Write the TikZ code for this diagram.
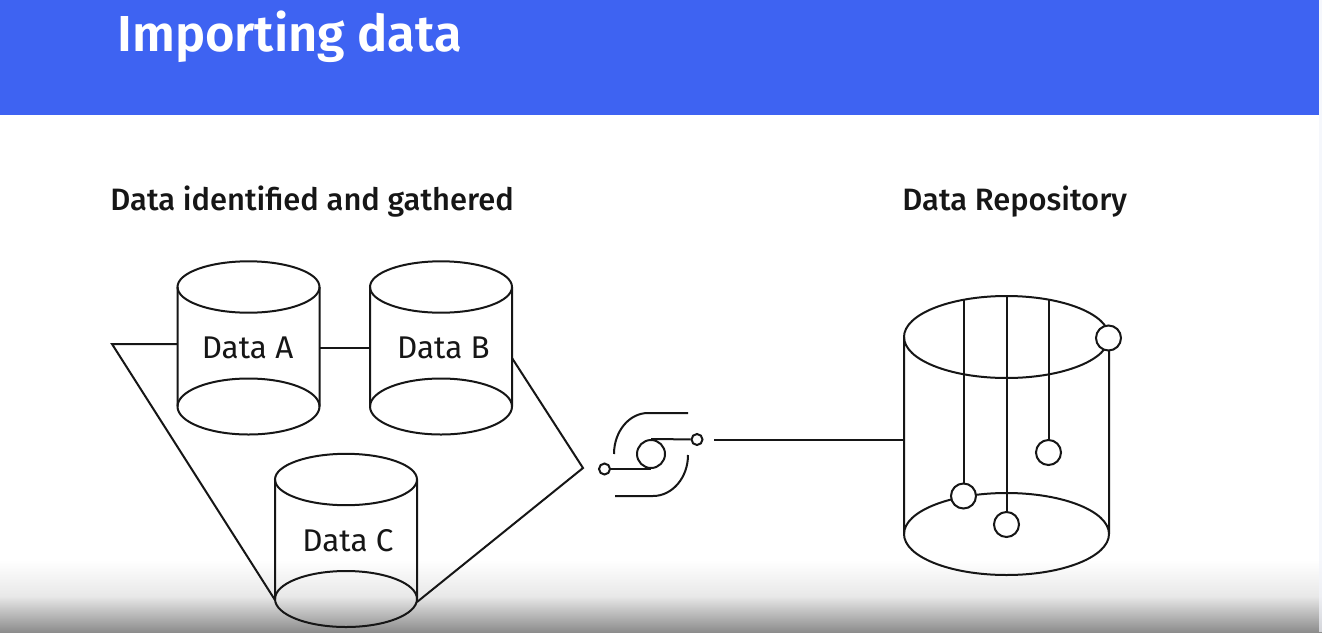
\documentclass[tikz,border=0pt]{standalone}
\usepackage{fontspec}
\setmainfont{Fira Sans}[BoldFont={Fira Sans Medium}]
\newfontfamily\titlefont{Fira Sans SemiBold}
\usetikzlibrary{positioning}
\definecolor{bannerblue}{HTML}{3E63F2}
\definecolor{inkblack}{HTML}{161616}
\definecolor{stripgray}{HTML}{F2F4FB}
\tikzset{
  wire/.style={inkblack, line width=1pt},
  label/.style={inkblack, font=\fontsize{15.7}{18}\selectfont, inner sep=0pt},
  heading/.style={inkblack, font=\fontsize{15.45}{18}\selectfont\bfseries, inner sep=0pt},
  pin/.style={circle, draw=inkblack, line width=1pt, fill=white, minimum size=12.5pt, inner sep=0pt},
  tinypin/.style={circle, draw=inkblack, line width=1pt, fill=white, minimum size=5.5pt, inner sep=0pt},
}
\NewDocumentCommand{\datacyl}{mmmmO{0}}{%
\begin{scope}[shift={(#2,#3)}]%
\draw[wire] (0,0) ellipse (71 and 25.7);
\draw[wire] (-71,119.5) arc (180:360:71 and 28);
\draw[wire] (-71,0) -- (-71,119.5) arc (180:0:71 and 28) -- (71,0);
\coordinate (#1w) at (-71,0);
\coordinate (#1e) at (71,0);
\node[label] (#1) at (#5,61) {#4};
\end{scope}%
}
\begin{document}
\begin{tikzpicture}[x=0.5pt, y=-0.5pt]
    \useasboundingbox (0,0) rectangle (1322,632);
    \fill[white] (0,0) rectangle (1322,632);
    \shade[top color=white, bottom color=black!45, middle color=black!9] (0,560) rectangle (1322,632);
    \fill[stripgray, opacity=0.7] (1319,0) rectangle (1322,632);
    \fill[bannerblue] (0,0) rectangle (1319,115);

    \node[white, font=\fontsize{25.3}{28}\selectfont\titlefont, inner sep=0pt, anchor=base west] (title) at (117,51) {Importing data};
    \node[heading, anchor=base west] (left head) at (110,210) {Data identified and gathered};
    \node[heading, anchor=base west] (right head) at (902,210) {Data Repository};

    % Sources.
    \datacyl{a}{248.5}{287}{Data A}[-1]
    \datacyl{b}{441}{287}{Data B}[2.5]
    \datacyl{c}{346}{479.5}{Data C}[2]

    % Funnel.
    \coordinate (corner) at (112,344);
    \coordinate (tip) at (583,468);
    \draw[wire] (ae |- 0,348) -- (bw |- 0,348);
    \draw[wire] (aw |- 0,344) -- (corner) -- (cw |- 0,600);
    \draw[wire] (be |- 0,358) -- (tip) -- (ce |- 0,602);

    % Import symbol.
    \node[circle, draw=inkblack, line width=1pt, minimum size=14pt, inner sep=0pt] (hub) at (651,454) {};
    \node[tinypin] (in) at (604.5,469) {};
    \node[tinypin] (out) at (697,439.5) {};
    \draw[wire] (in) -- (hub.south);
    \draw[wire] (out) -- (hub.north);
    \draw[wire] (614,454) arc (180:270:34 and 41) -- (688,413);
    \draw[wire] (688,455) arc (0:90:35 and 41) -- (615,496);

    % Repository.
    \coordinate (repo) at (1006.5,337);
    \draw[wire] (repo) ellipse (102.5 and 41);
    \draw[wire] (904,534) arc (180:360:102.5 and 41);
    \draw[wire] (904,337) -- (904,534) arc (180:0:102.5 and 41) -- (1109,337);
    \coordinate (feed) at (714,439.5);
    \draw[wire] (feed) -- (904,439.5);

    \node[pin] (p1) at (963.5,496) {};
    \node[pin] (p2) at (1006.5,524.5) {};
    \node[pin] (p3) at (1048.5,452.5) {};
    \node[pin] (p4) at (1108.5,338) {};
    \draw[wire] (963.5,299) -- (p1);
    \draw[wire] (1006.5,296) -- (p2);
    \draw[wire] (1048.5,299) -- (p3);
\end{tikzpicture}
\end{document}
